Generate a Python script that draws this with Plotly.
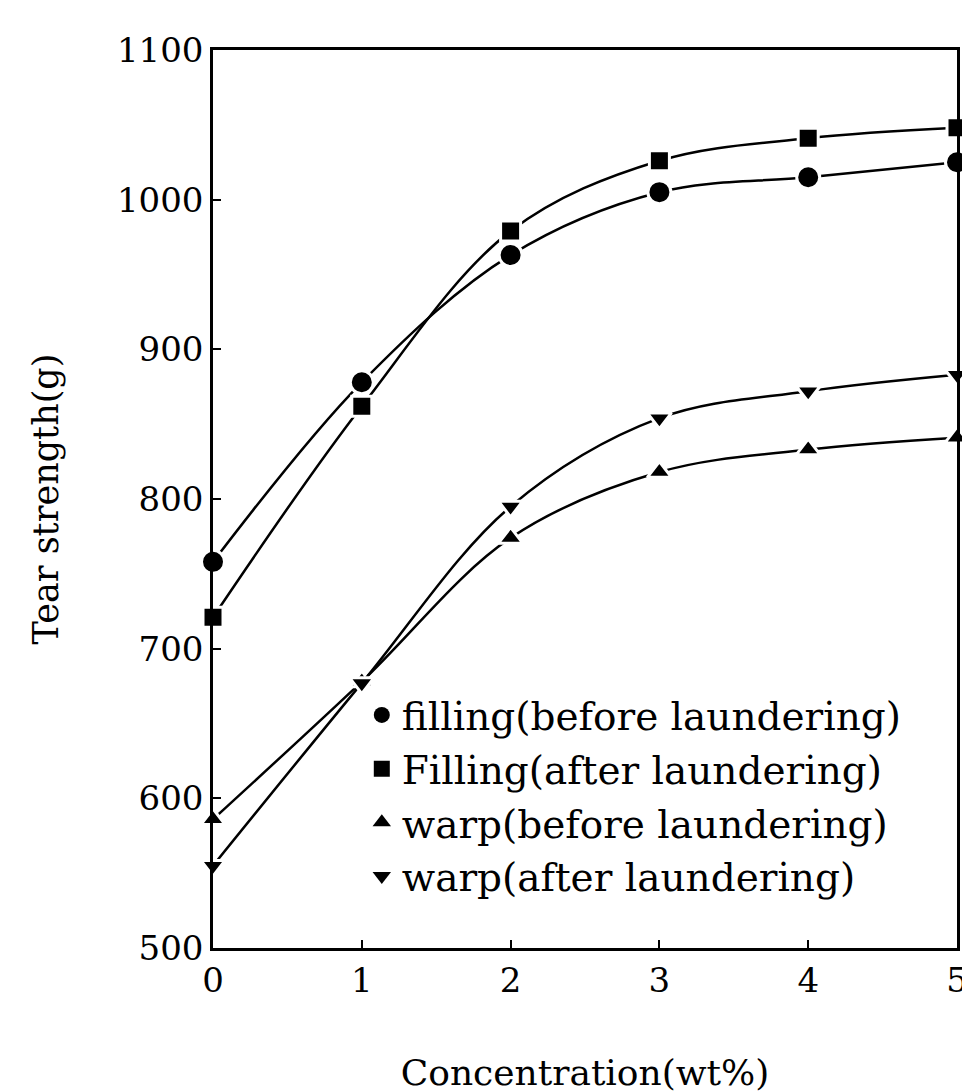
import plotly.graph_objects as go

# data
conc = [0, 1, 2, 3, 4, 5]
filling_before = [758, 878, 963, 1005, 1015, 1025]
filling_after = [721, 862, 979, 1026, 1041, 1048]
warp_before = [586, 678, 774, 818, 833, 841]
warp_after = [555, 677, 795, 854, 872, 883]

series = [
    ('filling(before laundering)', filling_before, 'circle', 23),
    ('Filling(after laundering)', filling_after, 'square', 20),
    ('warp(before laundering)', warp_before, 'triangle-up', 21),
    ('warp(after laundering)', warp_after, 'triangle-down', 21),
]

font_serif = 'DejaVu Serif'

fig = go.Figure()
for name, vals, sym, sz in series:
    fig.add_trace(go.Scatter(
        x=conc, y=vals, mode='lines+markers', name=name,
        line=dict(color='black', width=2.5, shape='spline', smoothing=1.0),
        marker=dict(symbol=sym, size=sz, color='black',
                    line=dict(color='white', width=3)),
        cliponaxis=False, showlegend=False
    ))

# legend entries (markers only)
for name, vals, sym, sz in series:
    fig.add_trace(go.Scatter(
        x=[None], y=[None], mode='markers', name=name,
        marker=dict(symbol=sym, size=24, color='black'),
        showlegend=True
    ))

fig.update_layout(
    width=970, height=1092,
    margin=dict(l=205, r=10, t=42, b=152),
    plot_bgcolor='white', paper_bgcolor='white',
    font=dict(family=font_serif, size=34, color='black'),
    legend=dict(x=0.2, y=0.295, xanchor='left', yanchor='top',
                bgcolor='rgba(0,0,0,0)', font=dict(size=39),
                tracegroupgap=0, itemwidth=30),
    xaxis=dict(range=[0, 5], dtick=1, showgrid=False, zeroline=False,
               showline=True, linecolor='black', linewidth=2.5, mirror=True,
               ticks='inside', ticklen=8, tickwidth=2, tickcolor='black',
               title=dict(text='Concentration(wt%)', font=dict(size=36), standoff=62)),
    yaxis=dict(range=[500, 1100], dtick=100, showgrid=False, zeroline=False,
               showline=True, linecolor='black', linewidth=2.5, mirror=True,
               ticks='inside', ticklen=8, tickwidth=2, tickcolor='black',
               title=dict(text='Tear strength(g)', font=dict(size=35), standoff=48)),
)

fig.write_html("out.html")
